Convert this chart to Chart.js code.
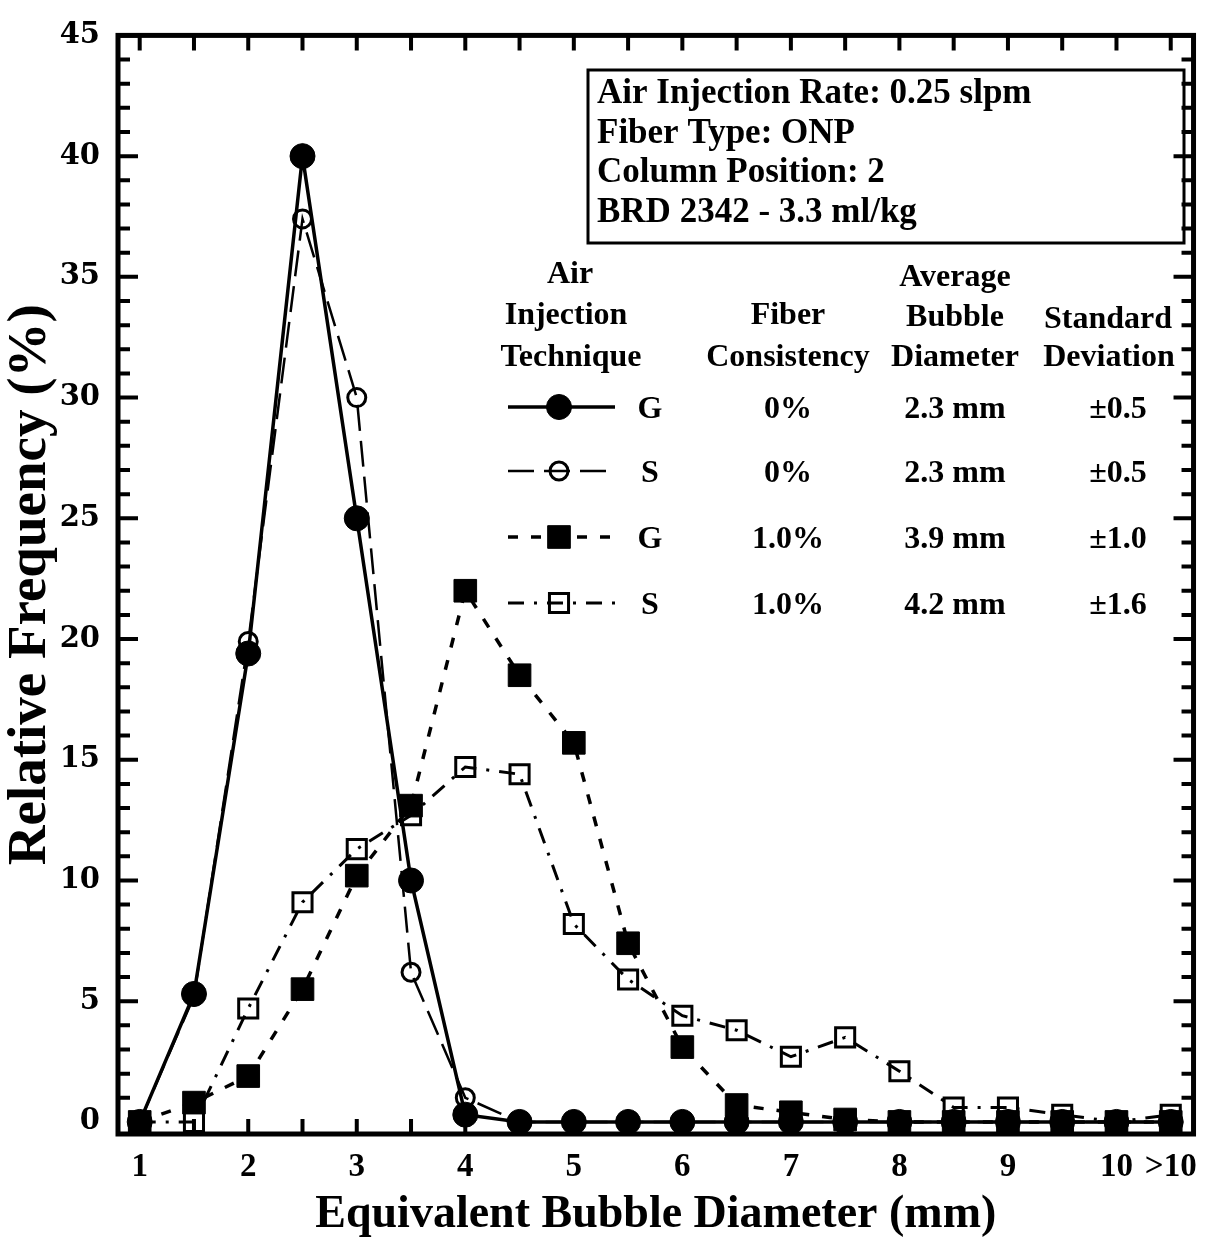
<!DOCTYPE html>
<html>
<head>
<meta charset="utf-8">
<script src="https://cdn.jsdelivr.net/npm/chart.js@4.4.0/dist/chart.umd.min.js"></script>
<style>
  html, body { margin: 0; padding: 0; background: #fff; }
</style>
</head>
<body>
<canvas id="bubbleChart" width="1211" height="1239"></canvas>
<script>
// bubble size classes (mm), ">10" plotted at 10.5
const diameters = [1, 1.5, 2, 2.5, 3, 3.5, 4, 4.5, 5, 5.5, 6, 6.5, 7, 7.5, 8, 8.5, 9, 9.5, 10, 10.5];

const gas0 = [0, 5.3, 19.4, 40.0, 25.0, 10.0, 0.3, 0, 0, 0, 0, 0, 0, 0, 0, 0, 0, 0, 0, 0];
const sparger0 = [0, 5.2, 19.9, 37.4, 30.0, 6.2, 1.0, 0, 0, 0, 0, 0, 0, 0, 0, 0, 0, 0, 0, 0];
const gas1 = [0, 0.8, 1.9, 5.5, 10.2, 13.1, 22.0, 18.5, 15.7, 7.4, 3.1, 0.7, 0.4, 0.1, 0, 0, 0, 0, 0, 0];
const sparger1 = [0, 0, 4.7, 9.1, 11.3, 12.7, 14.7, 14.4, 8.2, 5.9, 4.4, 3.8, 2.7, 3.5, 2.1, 0.6, 0.6, 0.3, 0, 0.3];

const tickPosX = [1, 2, 3, 4, 5, 6, 7, 8, 9, 10, 10.5];
const tickLabelsX = ["1", "2", "3", "4", "5", "6", "7", "8", "9", "10", ">10"];
const tickPosY = [0, 5, 10, 15, 20, 25, 30, 35, 40, 45];

const infoLines = ["Air Injection Rate: 0.25 slpm", "Fiber Type: ONP", "Column Position: 2", "BRD 2342 - 3.3 ml/kg"];
const technique = ["G", "S", "G", "S"];
const consistency = ["0%", "0%", "1.0%", "1.0%"];
const avgDiameter = ["2.3 mm", "2.3 mm", "3.9 mm", "4.2 mm"];
const stdDev = ["\u00b10.5", "\u00b10.5", "\u00b11.0", "\u00b11.6"];

const toXY = (vals) => vals.map((v, i) => ({ x: diameters[i], y: v }));

const serif = '"Liberation Serif", "Times New Roman", serif';

const datasets = [
  {
    label: "G 0%", data: toXY(gas0),
    borderColor: "#000", borderWidth: 3.5, borderDash: [],
    pointStyle: "circle", pointRadius: 12.5, pointBorderWidth: 1,
    pointBackgroundColor: "#000", pointBorderColor: "#000"
  },
  {
    label: "S 0%", data: toXY(sparger0),
    borderColor: "#000", borderWidth: 2.5, borderDash: [26, 10],
    pointStyle: "circle", pointRadius: 9, pointBorderWidth: 3,
    pointBackgroundColor: "rgba(255,255,255,0)", pointBorderColor: "#000"
  },
  {
    label: "G 1.0%", data: toXY(gas1),
    borderColor: "#000", borderWidth: 3.5, borderDash: [10, 13],
    pointStyle: "rect", pointRadius: 16, pointBorderWidth: 1,
    pointBackgroundColor: "#000", pointBorderColor: "#000"
  },
  {
    label: "S 1.0%", data: toXY(sparger1),
    borderColor: "#000", borderWidth: 3, borderDash: [16, 10, 3, 10],
    pointStyle: "rect", pointRadius: 13.5, pointBorderWidth: 3,
    pointBackgroundColor: "rgba(255,255,255,0)", pointBorderColor: "#000"
  }
];
datasets.forEach(d => { d.tension = 0; d.fill = false; d.clip = false; });

// box, inward ticks and the legend table
const decorations = {
  id: "decorations",
  beforeDatasetsDraw(chart) {
    const { ctx, chartArea: a, scales: { x, y } } = chart;
    ctx.save();
    ctx.strokeStyle = "#000";
    ctx.lineWidth = 5;
    ctx.strokeRect(a.left, a.top, a.right - a.left, a.bottom - a.top);

    ctx.lineWidth = 4;
    ctx.beginPath();
    for (let v = 1; v <= 45; v++) {
      const py = y.getPixelForValue(v);
      const len = v % 5 === 0 ? 20 : 12;
      ctx.moveTo(a.left, py); ctx.lineTo(a.left + len, py);
      ctx.moveTo(a.right, py); ctx.lineTo(a.right - len, py);
    }
    for (let v = 1; v <= 10.5; v += 0.5) {
      const px = x.getPixelForValue(v);
      ctx.moveTo(px, a.top); ctx.lineTo(px, a.top + 15);
      ctx.moveTo(px, a.bottom); ctx.lineTo(px, a.bottom - 15);
    }
    ctx.stroke();

    // info box
    ctx.lineWidth = 3;
    ctx.strokeRect(588, 70, 596, 173);
    ctx.fillStyle = "#000";
    ctx.font = "bold 35px " + serif;
    ctx.textAlign = "left";
    ctx.textBaseline = "alphabetic";
    infoLines.forEach((t, i) => ctx.fillText(t, 597, 103 + i * 39.5));

    // table headers
    ctx.font = "bold 32px " + serif;
    ctx.textAlign = "center";
    ctx.fillText("Air", 570, 283);
    ctx.fillText("Injection", 566, 324);
    ctx.fillText("Technique", 571, 366);
    ctx.fillText("Fiber", 788, 324);
    ctx.fillText("Consistency", 788, 366);
    ctx.fillText("Average", 955, 286);
    ctx.fillText("Bubble", 955, 326);
    ctx.fillText("Diameter", 955, 366);
    ctx.fillText("Standard", 1108, 328);
    ctx.fillText("Deviation", 1109, 366);

    const rowY = [407, 471, 537, 603];
    rowY.forEach((ry, i) => {
      const ds = datasets[i];
      ctx.save();
      ctx.lineWidth = ds.borderWidth;
      ctx.setLineDash(ds.borderDash);
      ctx.beginPath(); ctx.moveTo(508, ry); ctx.lineTo(615, ry); ctx.stroke();
      ctx.setLineDash([]);
      ctx.fillStyle = ds.pointBackgroundColor;
      ctx.lineWidth = ds.pointBorderWidth;
      Chart.helpers.drawPoint(ctx, { pointStyle: ds.pointStyle, radius: ds.pointRadius, borderWidth: ds.pointBorderWidth, rotation: 0 }, 559, ry);
      ctx.restore();
      ctx.fillStyle = "#000";
      ctx.fillText(technique[i], 650, ry + 11);
      ctx.fillText(consistency[i], 788, ry + 11);
      ctx.fillText(avgDiameter[i], 955, ry + 11);
      ctx.fillText(stdDev[i], 1118, ry + 11);
    });
    ctx.restore();
  }
};

new Chart(document.getElementById("bubbleChart"), {
  type: "line",
  data: { datasets },
  plugins: [decorations],
  options: {
    responsive: false,
    animation: false,
    layout: { padding: { left: 0, right: 16, top: 27, bottom: 0 } },
    plugins: { legend: { display: false }, tooltip: { enabled: false } },
    scales: {
      x: {
        type: "linear", min: 0.8, max: 10.71,
        afterBuildTicks: (s) => { s.ticks = tickPosX.map(v => ({ value: v })); },
        afterFit: (s) => { s.height = 105; },
        grid: { display: false, drawTicks: false },
        border: { display: false },
        ticks: {
          autoSkip: false, maxRotation: 0, padding: 14, color: "#000",
          font: { family: serif, size: 33, weight: "bold" },
          callback: (v) => tickLabelsX[tickPosX.indexOf(v)]
        },
        title: {
          display: true, text: "Equivalent Bubble Diameter (mm)", color: "#000",
          font: { family: serif, size: 46, weight: "bold" },
          padding: { top: 0, bottom: -4 }
        }
      },
      y: {
        type: "linear", min: -0.5, max: 45,
        afterBuildTicks: (s) => { s.ticks = tickPosY.map(v => ({ value: v })); },
        afterFit: (s) => { s.width = 118; },
        grid: { display: false, drawTicks: false },
        border: { display: false },
        ticks: {
          padding: 18, color: "#000",
          font: { family: '"DejaVu Serif", serif', size: 29, weight: "bold" }
        },
        title: {
          display: true, text: "Relative Frequency (%)", color: "#000",
          font: { family: serif, size: 55, weight: "bold" },
          padding: { top: -2, bottom: 0 }
        }
      }
    }
  }
});
</script>
</body>
</html>
